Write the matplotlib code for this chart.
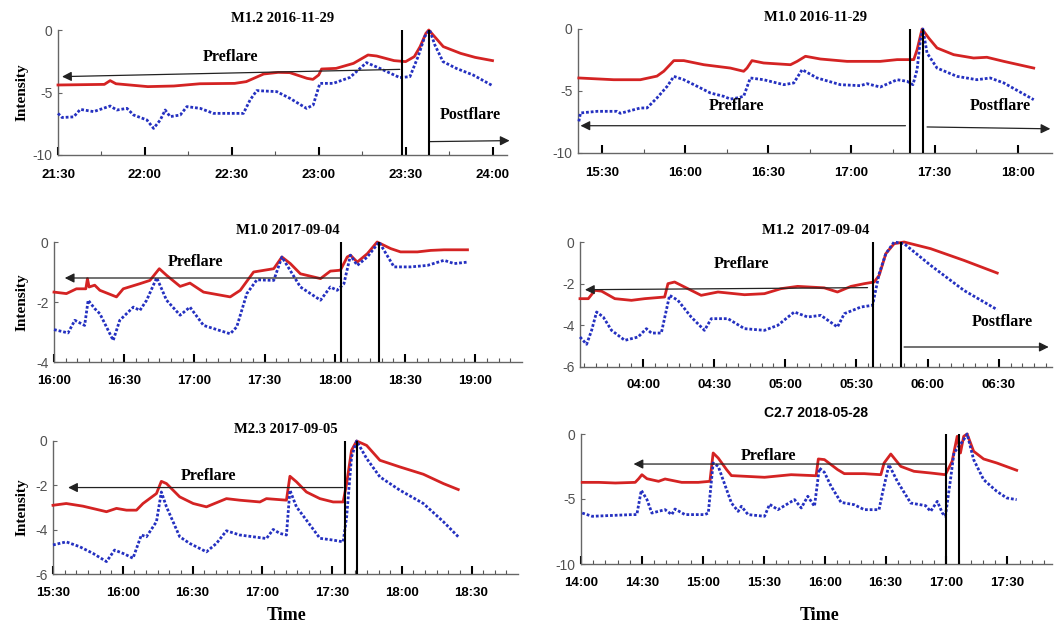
import numpy as np
import matplotlib.pyplot as plt

plt.rcParams['axes.unicode_minus'] = False

# ---- data (time in minutes after the first labelled tick, intensity) ----
titles = ["M1.2 2016-11-29", "M1.0 2016-11-29", "M1.0 2017-09-04",
          "M1.2  2017-09-04", "M2.3 2017-09-05", "C2.7 2018-05-28"]
start_times = ["21:30", "15:30", "16:00", "04:00", "15:30", "14:00"]

p1_red_t = [0, 16, 18, 20, 31, 40, 49, 61, 65, 71, 76, 80, 86, 88, 90, 91, 96, 102, 107, 110,
            116, 120, 123, 125, 127, 128, 130, 133, 139, 144, 150]
p1_red_v = [-4.4, -4.35, -4.05, -4.3, -4.53, -4.48, -4.3, -4.27, -4.13, -3.52, -3.39, -3.41,
            -3.87, -3.95, -3.6, -3.12, -3.07, -2.67, -2.0, -2.08, -2.45, -2.53, -2.13, -1.33,
            -0.27, 0, -0.53, -1.33, -1.87, -2.19, -2.45]
p1_blue_t = [0, 1.4, 5.4, 7.7, 12.3, 18.0, 20.3, 23.8, 26.1, 30.7, 33.0, 35.3, 37.0, 38.7, 42.2,
             44.5, 49.1, 53.7, 58.3, 64.0, 66.3, 68.6, 75.5, 80.1, 85.8, 88.1, 90.4, 95.0, 100.8,
             106.5, 111.1, 118.0, 121.5, 124.3, 126.6, 128.3, 130.1, 132.9, 137.5, 143.3, 150.2]
p1_blue_v = [-6.67, -7.0, -6.95, -6.35, -6.53, -6.08, -6.4, -6.27, -6.8, -7.2, -7.87, -7.2, -6.4,
             -6.93, -6.8, -6.13, -6.27, -6.67, -6.67, -6.67, -5.6, -4.85, -4.93, -5.47, -6.27,
             -6.0, -4.27, -4.27, -3.79, -2.61, -3.07, -3.81, -3.73, -2.13, -0.53, 0, -1.2,
             -2.53, -3.07, -3.6, -4.48]

p2_red_t = [-8.4, 4.2, 13.8, 19.8, 22.3, 25.9, 29.5, 36.7, 46.3, 51.1, 52.3, 54.1, 58.3, 68.0,
            70.4, 73.4, 78.8, 88.4, 94.4, 100.4, 106.5, 112.5, 113.7, 115.5, 117.9, 120.9, 126.9,
            134.1, 138.9, 145.0, 155.8]
p2_red_v = [-3.95, -4.09, -4.09, -3.8, -3.4, -2.55, -2.55, -2.88, -3.15, -3.41, -3.15, -2.55,
            -2.74, -2.88, -2.61, -2.2, -2.42, -2.61, -2.61, -2.61, -2.47, -2.47, -1.67, 0,
            -0.73, -1.53, -2.07, -2.34, -2.28, -2.61, -3.15]
p2_blue_t = [-8.4, -7.8, -1.8, 5.4, 6.6, 13.8, 16.2, 19.8, 23.5, 25.9, 29.5, 34.3, 39.1, 43.9,
             46.3, 48.7, 51.1, 53.5, 58.3, 65.6, 69.2, 72.2, 77.6, 86.0, 93.2, 95.6, 100.4,
             106.5, 110.1, 112.2, 113.7, 114.9, 115.8, 117.3, 120.9, 128.1, 135.3, 140.1,
             145.0, 155.8]
p2_blue_v = [-7.45, -6.77, -6.64, -6.64, -6.8, -6.37, -6.37, -5.56, -4.62, -3.82, -4.09, -4.62,
             -5.16, -5.43, -5.65, -5.56, -5.43, -3.95, -4.09, -4.49, -4.35, -3.28, -3.95, -4.49,
             -4.57, -4.41, -4.68, -4.09, -4.22, -4.49, -3.28, -0.86, 0, -1.94, -3.15, -3.82,
             -4.09, -3.95, -4.35, -5.7]

p3_red_t = [0, 5.3, 9.6, 13.6, 14.3, 15.0, 17.4, 19.6, 26.7, 29.6, 36.7, 41.0, 45.0, 48.1, 53.9,
            58.1, 63.9, 75.3, 79.6, 85.3, 93.9, 97.4, 101.0, 105.3, 113.9, 118.1, 122.4, 125.3,
            126.7, 129.6, 133.9, 138.1, 143.9, 148.1, 155.3, 161.0, 166.7, 176.7]
p3_red_v = [-1.67, -1.72, -1.56, -1.56, -1.22, -1.5, -1.44, -1.61, -1.83, -1.56, -1.39, -1.28,
            -0.89, -1.11, -1.48, -1.37, -1.67, -1.83, -1.61, -1.0, -0.89, -0.5, -0.72, -1.06,
            -1.22, -0.97, -0.94, -0.5, -0.44, -0.67, -0.39, 0, -0.22, -0.33, -0.33, -0.28,
            -0.26, -0.26]
p3_blue_t = [0, 6.0, 8.9, 13.1, 14.6, 17.4, 19.6, 25.3, 28.1, 33.9, 36.7, 39.6, 43.9, 48.1, 53.9,
             58.1, 63.9, 75.3, 78.1, 82.4, 86.7, 93.9, 97.4, 105.3, 113.9, 118.1, 121.0, 123.9,
             126.7, 129.6, 133.9, 138.9, 145.3, 152.4, 159.6, 166.7, 171.0, 176.7]
p3_blue_v = [-2.92, -3.03, -2.61, -2.78, -1.94, -2.22, -2.39, -3.28, -2.61, -2.17, -2.28, -1.94,
             -1.19, -1.94, -2.44, -2.17, -2.78, -3.06, -2.83, -1.72, -1.26, -1.28, -0.5, -1.5,
             -1.94, -1.5, -1.61, -1.39, -0.44, -0.78, -0.5, 0, -0.83, -0.83, -0.78, -0.61,
             -0.72, -0.67]

p4_red_t = [-26.6, -23.1, -20.3, -17.5, -11.9, -4.9, 0.7, 9.1, 10.5, 13.3, 20.3, 24.5, 31.6,
            42.8, 51.2, 58.2, 65.2, 76.4, 82.0, 87.7, 93.3, 97.5, 99.6, 102.4, 105.9, 110.1,
            121.3, 135.3, 149.4]
p4_red_v = [-2.72, -2.72, -2.32, -2.36, -2.72, -2.8, -2.72, -2.64, -2.0, -1.92, -2.32, -2.56,
            -2.4, -2.53, -2.48, -2.24, -2.13, -2.2, -2.4, -2.13, -2.0, -1.92, -1.6, -0.56,
            -0.08, 0, -0.32, -0.88, -1.49]
p4_blue_t = [-26.6, -23.8, -21.7, -19.6, -16.8, -13.3, -7.7, -2.1, 1.4, 3.5, 7.7, 9.8, 11.2,
             14.7, 20.3, 25.9, 28.8, 35.8, 42.8, 51.2, 56.8, 63.8, 69.4, 75.0, 82.0, 84.9, 91.9,
             96.8, 99.6, 102.4, 105.9, 110.1, 121.3, 135.3, 149.4]
p4_blue_v = [-4.56, -4.91, -4.24, -3.36, -3.6, -4.24, -4.72, -4.56, -4.16, -4.37, -4.37, -3.28,
             -2.56, -2.8, -3.6, -4.24, -3.68, -3.68, -4.16, -4.24, -4.0, -3.36, -3.6, -3.52,
             -4.08, -3.44, -3.12, -3.04, -1.52, -0.56, 0, -0.08, -1.12, -2.32, -3.25]

p5_red_t = [0, 5.7, 12.9, 23.0, 27.3, 31.6, 35.9, 38.7, 44.5, 46.6, 48.8, 54.5, 60.3, 66.0, 74.6,
            80.3, 89.0, 91.8, 100.4, 101.9, 104.7, 109.0, 114.8, 120.5, 124.8, 126.3, 128.4,
            130.6, 134.9, 140.6, 149.2, 159.3, 167.9, 174.3]
p5_red_v = [-2.9, -2.82, -2.94, -3.19, -3.04, -3.12, -3.12, -2.82, -2.37, -1.82, -1.92, -2.52,
            -2.82, -2.97, -2.6, -2.67, -2.75, -2.6, -2.67, -1.59, -1.84, -2.3, -2.6, -2.75,
            -2.75, -1.92, -0.42, 0, -0.2, -0.87, -1.17, -1.5, -1.92, -2.19]
p5_blue_t = [0, 5.7, 11.5, 17.2, 23.0, 26.5, 30.8, 34.4, 38.0, 40.2, 44.5, 46.6, 48.8, 54.5,
             58.8, 66.0, 70.3, 74.6, 80.3, 86.1, 91.8, 94.7, 97.6, 100.4, 101.9, 104.7, 109.0,
             114.8, 120.5, 124.8, 126.3, 128.4, 130.6, 134.9, 140.6, 149.2, 159.3, 167.9, 174.3]
p5_blue_v = [-4.69, -4.55, -4.77, -5.07, -5.44, -4.92, -5.1, -5.29, -4.24, -4.32, -3.64, -2.3,
             -2.97, -4.32, -4.62, -5.0, -4.62, -4.05, -4.24, -4.32, -4.4, -3.99, -4.17, -4.24,
             -2.22, -2.97, -3.57, -4.39, -4.47, -4.55, -3.42, -0.72, 0, -0.79, -1.62, -2.22,
             -2.82, -3.64, -4.32]

p6_red_t = [0.6, 8.8, 16.9, 26.7, 28.4, 30.0, 32.5, 38.2, 41.4, 49.6, 57.8, 63.5, 65.1, 67.6,
            71.7, 74.1, 90.4, 103.5, 115.8, 116.9, 119.9, 126.4, 129.7, 139.5, 147.7, 149.3,
            152.6, 157.5, 164.0, 172.2, 179.5, 182.8, 185.3, 186.9, 188.5, 190.2, 193.4, 198.3,
            204.8, 214.6]
p6_red_v = [-3.72, -3.72, -3.77, -3.72, -3.44, -3.13, -3.44, -3.64, -3.46, -3.72, -3.72, -3.64,
            -1.46, -1.85, -2.74, -3.2, -3.33, -3.13, -3.21, -1.92, -1.97, -2.74, -3.05, -3.05,
            -3.13, -2.23, -1.54, -2.49, -2.87, -3.0, -3.13, -2.1, -0.18, -1.46, -0.18, 0,
            -1.33, -1.92, -2.23, -2.79]
p6_blue_t = [0.6, 5.5, 25.1, 27.5, 29.7, 32.5, 34.9, 41.4, 44.7, 46.3, 51.2, 61.0, 62.7, 65.1,
             67.6, 74.1, 77.4, 79.0, 82.3, 90.4, 92.9, 97.0, 105.2, 108.5, 111.7, 115.0, 117.4,
             119.9, 123.2, 128.1, 134.6, 139.5, 146.8, 148.5, 151.7, 155.8, 162.4, 169.7, 172.2,
             175.5, 178.0, 179.5, 182.0, 183.7, 186.1, 188.5, 190.2, 193.4, 198.3, 204.8, 209.7,
             214.6]
p6_blue_v = [-6.08, -6.33, -6.2, -6.2, -4.33, -5.05, -6.08, -5.82, -6.2, -5.77, -6.2, -6.2,
             -6.08, -2.23, -2.49, -5.31, -5.95, -5.56, -6.2, -6.33, -5.41, -5.82, -5.05, -5.69,
             -4.79, -5.56, -2.62, -2.95, -4.03, -5.26, -5.44, -5.82, -5.82, -4.54, -2.36, -3.64,
             -5.31, -5.51, -5.95, -5.18, -6.08, -6.33, -3.51, -1.46, -0.95, -0.44, 0, -1.97,
             -3.51, -4.41, -4.92, -5.05]

# flare start / peak markers (minutes)
flare_lines = [[118.6, 128.0], [111.0, 115.8], [122.7, 138.9],
               [96.8, 108.7], [125.8, 130.6], [180.0, 186.4]]

red_t = [p1_red_t, p2_red_t, p3_red_t, p4_red_t, p5_red_t, p6_red_t]
red_v = [p1_red_v, p2_red_v, p3_red_v, p4_red_v, p5_red_v, p6_red_v]
blue_t = [p1_blue_t, p2_blue_t, p3_blue_t, p4_blue_t, p5_blue_t, p6_blue_t]
blue_v = [p1_blue_v, p2_blue_v, p3_blue_v, p4_blue_v, p5_blue_v, p6_blue_v]

# ---- layout (pixel boxes of each axes: left, right, top, bottom) ----
W, H = 1058, 628
boxes = [(58, 507, 30, 155), (578, 1052, 29, 153),
         (54, 522, 242, 362), (580, 1052, 242, 367),
         (53, 518, 441, 574), (581, 1052, 434, 564)]
xlims = [(0, 155), (-8.7, 162.4), (0, 200), (-26.6, 172.5), (0, 200), (0, 232)]
ylims = [-10, -10, -4, -6, -6, -10]
ysteps = [5, 5, 2, 2, 2, 5]
xmax_tick = [150, 150, 180, 150, 180, 210]
minor_step = [15, 15, 5, 5, 5, 6]
# preflare arrow (x_from, y_from, x_to, y_to), label (x, y)
pre_arrow = [(118, -3.15, 1.4, -3.73), (109.5, -7.8, -7.8, -7.8), (122.7, -1.2, 4.6, -1.2),
             (94.7, -2.19, -24.5, -2.29), (124.8, -2.1, 6.5, -2.1), (179.5, -2.31, 25.9, -2.31)]
pre_text = [(59.7, -2.13), (48.5, -6.24), (60.3, -0.67), (41.4, -1.04), (66.7, -1.59), (92.1, -1.72)]
post_arrow = {0: (128.3, -8.93, 155.9, -8.85), 1: (117.3, -7.9, 161.8, -8.05),
              3: (110.1, -5.04, 171.1, -5.04)}
post_text = {0: (142.4, -6.8), 1: (143.7, -6.24), 3: (151.5, -3.84)}

serif = 'Liberation Serif'
sans = 'Liberation Sans'


def clock(start, m):
    h, mm = map(int, start.split(':'))
    tot = h * 60 + mm + int(m)
    return f"{tot // 60:02d}:{tot % 60:02d}"


fig = plt.figure(figsize=(W / 100, H / 100), dpi=100)

for i in range(6):
    l, r, t, b = boxes[i]
    ax = fig.add_axes([l / W, 1 - b / H, (r - l) / W, (b - t) / H])
    ax.plot(red_t[i], red_v[i], color='#d42323', lw=2, clip_on=False, zorder=3)
    ax.plot(blue_t[i], blue_v[i], color='#2430c0', lw=2, ls=(0, (1, 0.7)),
            clip_on=False, zorder=3)
    for xv in flare_lines[i]:
        ax.vlines(xv, ylims[i], 0, color='k', lw=1.5, zorder=4, clip_on=False)

    ax.set_xlim(*xlims[i])
    ax.set_ylim(ylims[i], 0)
    ax.spines['top'].set_visible(False)
    ax.spines['right'].set_visible(False)
    for s in ('left', 'bottom'):
        ax.spines[s].set_color('#666666')
        ax.spines[s].set_linewidth(1.0)

    xt = np.arange(0, xmax_tick[i] + 1, 30)
    ax.set_xticks(xt)
    ax.set_xticklabels([clock(start_times[i], m) for m in xt],
                       fontfamily=sans, fontweight='bold', fontsize=9.5)
    ax.set_xticks(np.arange(np.ceil(xlims[i][0] / minor_step[i]) * minor_step[i],
                            xlims[i][1], minor_step[i]), minor=True)
    yt = np.arange(ylims[i], 1, ysteps[i])
    ax.set_yticks(yt)
    ax.set_yticklabels([str(int(v)) for v in yt], fontfamily=sans, fontsize=10,
                       color='#505050')
    ax.tick_params(axis='x', which='major', direction='in', length=6, width=1.5,
                   color='k', pad=10 if i < 2 else 9)
    ax.tick_params(axis='x', which='minor', direction='in', length=3, width=0.8,
                   color='#555555')
    ax.tick_params(axis='y', direction='in', length=3, width=0.8, color='#666666', pad=4)

    ax.set_title(titles[i], fontfamily=sans if i == 5 else serif, fontweight='bold',
                 fontsize=10.5 if i != 5 else 10, pad=12 if i == 5 else 6)

    x0, y0, x1, y1 = pre_arrow[i]
    ax.annotate('', xy=(x1, y1), xytext=(x0, y0), annotation_clip=False,
                arrowprops=dict(arrowstyle='-|>', color='#222222', lw=0.9,
                                mutation_scale=14, shrinkA=0, shrinkB=0))
    ax.text(*pre_text[i], 'Preflare', fontfamily=serif, fontweight='bold', fontsize=11.5,
            ha='center', va='center')
    if i in post_arrow:
        x0, y0, x1, y1 = post_arrow[i]
        ax.annotate('', xy=(x1, y1), xytext=(x0, y0), annotation_clip=False,
                    arrowprops=dict(arrowstyle='-|>', color='#222222', lw=0.9,
                                    mutation_scale=14, shrinkA=0, shrinkB=0))
        ax.text(*post_text[i], 'Postflare', fontfamily=serif, fontweight='bold',
                fontsize=11.5, ha='center', va='center')

    if i % 2 == 0:
        ax.set_ylabel('Intensity', fontfamily=serif, fontweight='bold', fontsize=11)
        ax.yaxis.set_label_coords((29 - l) / (r - l), 0.5)
    if i >= 4:
        ax.set_xlabel('Time', fontfamily=serif, fontweight='bold', fontsize=13)
        ax.xaxis.set_label_coords(((287 if i == 4 else 820) - l) / (r - l),
                                  -(607 - b) / (b - t))

fig.savefig('out.png', dpi=100)
